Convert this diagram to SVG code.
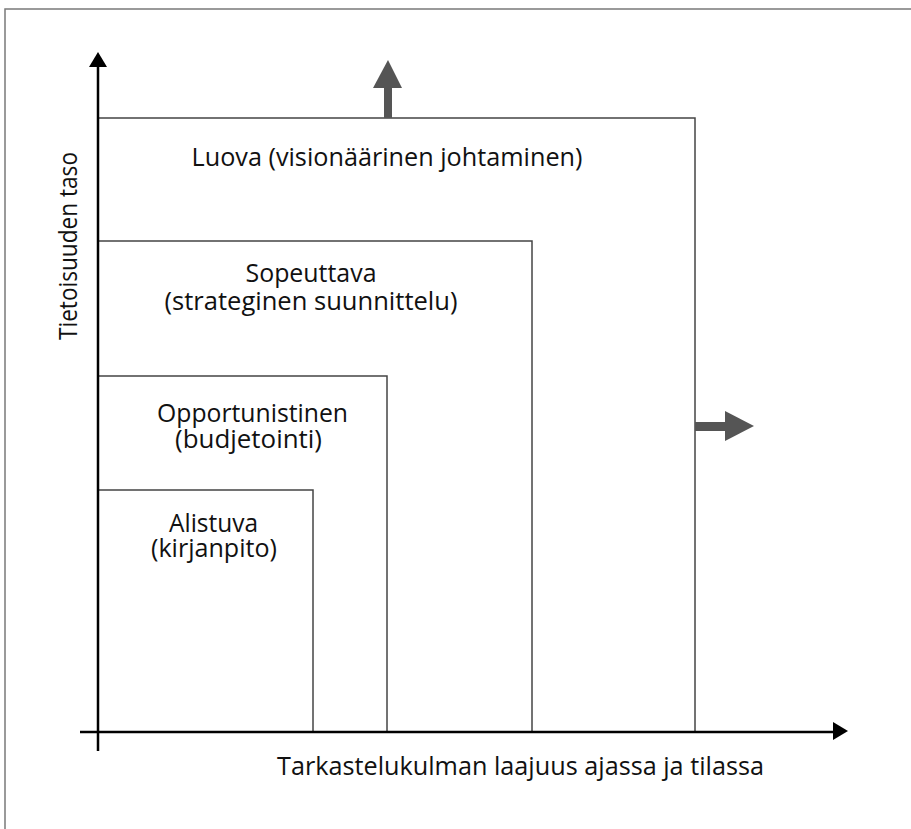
<svg xmlns="http://www.w3.org/2000/svg" width="911" height="829" viewBox="0 0 911 829">
  <style>
    .frame { fill: none; stroke: #7a7a7a; stroke-width: 1.5; }
    .box { fill: none; stroke: #444; stroke-width: 1.5; }
    .axis { fill: none; stroke: #000; stroke-width: 2.5; }
    .head { fill: #000; }
    .grow { fill: #555; }
    text { font-family: "Open Sans", "Noto Sans", "Liberation Sans", sans-serif; font-size: 26px; fill: #111; }
    .c { text-anchor: middle; }
  </style>

  <rect width="911" height="829" fill="#fff"/>
  <rect class="frame" x="5" y="9" width="920" height="840"/>

  <!-- nested levels, innermost last -->
  <g id="luova">
    <rect class="box" x="98" y="118" width="597" height="614"/>
    <text class="c" x="387" y="166" textLength="391" lengthAdjust="spacingAndGlyphs">Luova (visionäärinen johtaminen)</text>
  </g>
  <g id="sopeuttava">
    <rect class="box" x="98" y="241" width="434" height="491"/>
    <text class="c"><tspan x="311" y="282" textLength="131" lengthAdjust="spacingAndGlyphs">Sopeuttava</tspan><tspan x="311" y="310" textLength="293" lengthAdjust="spacingAndGlyphs">(strateginen suunnittelu)</tspan></text>
  </g>
  <g id="opportunistinen">
    <rect class="box" x="98" y="376" width="289" height="356"/>
    <text class="c"><tspan x="252.5" y="422" textLength="191" lengthAdjust="spacingAndGlyphs">Opportunistinen</tspan><tspan x="248.5" y="448" textLength="147" lengthAdjust="spacingAndGlyphs">(budjetointi)</tspan></text>
  </g>
  <g id="alistuva">
    <rect class="box" x="98" y="490" width="215" height="242"/>
    <text class="c"><tspan x="213.5" y="532" textLength="89" lengthAdjust="spacingAndGlyphs">Alistuva</tspan><tspan x="214" y="557" textLength="126" lengthAdjust="spacingAndGlyphs">(kirjanpito)</tspan></text>
  </g>

  <!-- axes and growth arrows -->
  <g id="connectors">
    <line class="axis" x1="98" y1="751" x2="98" y2="66"/>
    <polygon class="head" points="98,52 89,67 107,67"/>
    <line class="axis" x1="80" y1="732" x2="834" y2="732"/>
    <polygon class="head" points="848,731 833,722 833,740"/>

    <rect class="grow" x="384" y="87" width="8" height="31"/>
    <polygon class="grow" points="388,60 373,88 402,88"/>
    <rect class="grow" x="695" y="422" width="31" height="9"/>
    <polygon class="grow" points="754,426 725,411 725,441"/>
  </g>

  <g id="axis-labels">
    <text class="c" x="520.5" y="775" textLength="487" lengthAdjust="spacingAndGlyphs">Tarkastelukulman laajuus ajassa ja tilassa</text>
    <text class="c" transform="translate(77 246) rotate(-90)" x="0" y="0" textLength="188" lengthAdjust="spacingAndGlyphs">Tietoisuuden taso</text>
  </g>
</svg>
